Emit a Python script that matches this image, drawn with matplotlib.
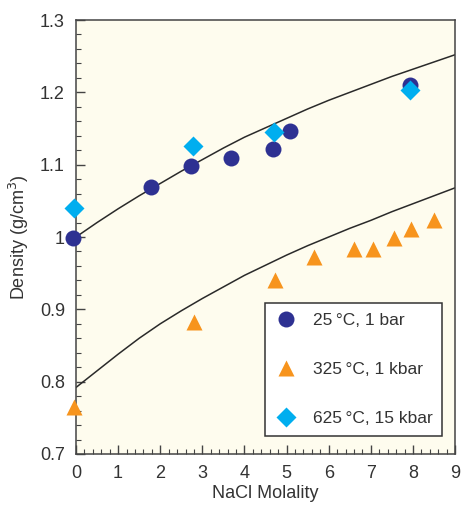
import numpy as np
import matplotlib.pyplot as plt
from matplotlib.ticker import MultipleLocator

plt.rcParams['font.family'] = ['Liberation Sans', 'DejaVu Sans']

# 25 C, 1 bar
m_25 = [-0.06, 1.79, 2.74, 3.69, 4.68, 5.09, 7.94]
d_25 = [0.998, 1.069, 1.098, 1.109, 1.122, 1.147, 1.210]

# 325 C, 1 kbar
m_325 = [-0.05, 2.80, 4.73, 5.66, 6.61, 7.06, 7.54, 7.95, 8.50]
d_325 = [0.765, 0.882, 0.941, 0.972, 0.984, 0.984, 0.998, 1.011, 1.023]

# 625 C, 15 kbar
m_625 = [-0.05, 2.78, 4.69, 7.94]
d_625 = [1.040, 1.126, 1.145, 1.203]

# model curves
m_curve = [0, 0.5, 1, 1.5, 2, 2.5, 3, 3.5, 4, 4.5, 5, 5.5, 6, 6.5, 7, 7.5, 8, 8.5, 9]
d_upper = [1.000, 1.020, 1.039, 1.057, 1.074, 1.091, 1.107, 1.123, 1.138, 1.151,
           1.164, 1.177, 1.189, 1.200, 1.211, 1.222, 1.232, 1.242, 1.252]
d_lower = [0.792, 0.815, 0.838, 0.860, 0.880, 0.898, 0.915, 0.931, 0.947, 0.961,
           0.975, 0.988, 1.000, 1.012, 1.023, 1.035, 1.046, 1.057, 1.068]

labels = ['25\u2009°C, 1 bar', '325\u2009°C, 1 kbar', '625\u2009°C, 15 kbar']


def main():
    fig = plt.figure(figsize=(4.62, 5.08), dpi=100)
    ax = fig.add_axes([0.1645, 0.1063, 0.8205, 0.8543])
    ax.set_facecolor('#fefcee')

    ax.plot(m_curve, d_upper, color='#2a2a2a', lw=1.1, zorder=2)
    ax.plot(m_curve, d_lower, color='#2a2a2a', lw=1.1, zorder=2)

    ax.plot(m_25, d_25, 'o', color='#2e3192', ms=11.5, mec='none',
            label=labels[0], clip_on=False, zorder=3)
    ax.plot(m_325, d_325, '^', color='#f7941d', ms=12, mec='none',
            label=labels[1], clip_on=False, zorder=3)
    ax.plot(m_625, d_625, 'D', color='#00aeef', ms=10, mec='none',
            label=labels[2], clip_on=False, zorder=4)

    ax.set_xlim(0, 9)
    ax.set_ylim(0.7, 1.3)
    ax.xaxis.set_major_locator(MultipleLocator(1))
    ax.xaxis.set_minor_locator(MultipleLocator(0.2))
    ax.yaxis.set_minor_locator(MultipleLocator(0.02))
    ax.set_yticks([0.7, 0.8, 0.9, 1.0, 1.1, 1.2, 1.3])
    ax.set_yticklabels(['0.7', '0.8', '0.9', '1', '1.1', '1.2', '1.3'])

    ax.tick_params(which='both', direction='in', color='#444444',
                   labelsize=13, labelcolor='#333333', pad=8)
    ax.tick_params(which='major', length=6.5, width=1)
    ax.tick_params(which='minor', length=3.5, width=0.8)
    for s in ax.spines.values():
        s.set_color('#444444')
        s.set_linewidth(1.1)

    ax.set_xlabel('NaCl Molality', fontsize=13, color='#333333', labelpad=2)
    ax.set_ylabel('Density (g/cm$^3$)', fontsize=13, color='#333333', labelpad=6)

    leg = ax.legend(loc='lower left', bbox_to_anchor=(0.4987, 0.0415),
                    fontsize=12.5, frameon=True, fancybox=False,
                    framealpha=1, facecolor='white', edgecolor='#333333',
                    labelspacing=1.95, handlelength=1.26, handletextpad=0.92,
                    borderpad=0.57, borderaxespad=0)
    leg.get_frame().set_linewidth(1.1)
    for t in leg.get_texts():
        t.set_color('#333333')

    fig.savefig('out.png', dpi=100)


if __name__ == '__main__':
    main()
